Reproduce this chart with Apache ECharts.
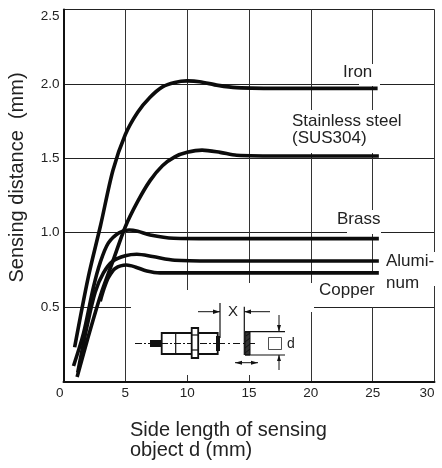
<!DOCTYPE html>
<html><head><meta charset="utf-8">
<style>html,body{margin:0;padding:0;background:#fff}#c{width:442px;height:468px}</style>
<script src="https://cdn.jsdelivr.net/npm/echarts@6/dist/echarts.min.js"></script>
</head><body><div id="c"></div>
<script>
const iron=[[0.9,0.23],[2.0,0.70],[3,1.05],[4,1.42],[5,1.66],[6,1.81],[7,1.91],[8,1.98],[9,2.01],[10,2.02],[11,2.015],[12.5,1.99],[14,1.975],[18,1.97],[25.4,1.97]];
const stainless=[[1.1,0.03],[2,0.30],[3,0.58],[4,0.81],[5,1.04],[6,1.21],[7,1.35],[8,1.45],[9,1.51],[10,1.54],[11.2,1.555],[12.67,1.54],[14,1.52],[18,1.515],[25.5,1.515]];
const brass=[[0.81,0.104],[1.62,0.325],[2.43,0.637],[2.97,0.80],[3.62,0.93],[4.5,1.0],[5.3,1.018],[6,1.01],[7,0.985],[8.9,0.963],[12,0.96],[25.5,0.96]];
const aluminum=[[1.15,0.06],[1.9,0.37],[2.56,0.60],[3.23,0.73],[4.0,0.81],[5.0,0.845],[5.93,0.855],[7.2,0.84],[9,0.815],[12,0.81],[25.5,0.81]];
const copper=[[2.97,0.54],[3.3,0.63],[3.64,0.70],[4.18,0.76],[5.1,0.783],[5.8,0.77],[6.74,0.743],[7.8,0.73],[12,0.73],[25.5,0.73]];
const seriesList=[iron,stainless,brass,aluminum,copper];
const xTicks=[0,5,10,15,20,25,30];
const yTicks=[0,0.5,1,1.5,2,2.5];

const INK='#222', FF='"Liberation Sans",Arial,sans-serif';
const rect=(x,y,w,h)=>({type:'rect',z:1,silent:true,shape:{x,y,width:w,height:h},style:{fill:'#fff'}});
const line=(x1,y1,x2,y2,lw=1,dash)=>({type:'line',z:5,silent:true,shape:{x1,y1,x2,y2},style:{stroke:'#111',lineWidth:lw,lineDash:dash||null}});
const box=(x,y,w,h,lw=1.6,fill='#fff')=>({type:'rect',z:5,silent:true,shape:{x,y,width:w,height:h},style:{fill,stroke:'#111',lineWidth:lw}});
const tri=(pts)=>({type:'polygon',z:5,silent:true,shape:{points:pts},style:{fill:'#111'}});
const label=(t,x,y,size=17)=>({type:'text',z:6,silent:true,x,y,style:{text:t,fill:INK,font:size+'px '+FF,textAlign:'left',textVerticalAlign:'middle'}});

const graphics=[
  rect(131,290,178,85), rect(131,300,183,12), rect(245,283,8,8),
  rect(305,283,71,24), rect(368,273,8,27), rect(376,252,60,34),
  rect(359,64,21,22), rect(290,110,116,43), rect(347,210,34,24),
  label('Iron',343,72), label('Stainless steel',292,121), label('(SUS304)',292,138),
  label('Brass',337,219), label('Alumi-',386,261), label('num',386,283), label('Copper',319,290),
  label('Side length of sensing',130,430,20), label('object d (mm)',130,450,20),
  // inset sketch
  line(135,343.5,218,343.5,1,[7,2,2,2]), line(218,343.5,258,343.5,1,[7,3,2,3]),
  {type:'rect',z:5,silent:true,shape:{x:150,y:340,width:12,height:7},style:{fill:'#111'}},
  {type:'rect',z:4,silent:true,shape:{x:161.7,y:333,width:56,height:21},style:{fill:'#fff',stroke:'#111',lineWidth:1.8}},
  line(175.7,333,175.7,354,1.2), line(135,343.5,218,343.5,1,[7,2,2,2]),
  box(191.7,328,6.5,30,1.8), line(192,335,198,335,1.2), line(192,350,198,350,1.2),
  {type:'rect',z:5,silent:true,shape:{x:216,y:336,width:4,height:15},style:{fill:'#111'}},
  line(220,303,220,338,1.2), line(198,311.7,220,311.7), tri([[220,311.7],[213,309.5],[213,314]]),
  {type:'text',z:6,silent:true,x:233,y:311.5,style:{text:'X',fill:INK,font:'15px '+FF,textAlign:'center',textVerticalAlign:'middle'}},
  line(244.3,306.7,244.3,355,1.2), line(244.3,311.7,270,311.7), tri([[244.3,311.7],[251,309.5],[251,314]]),
  box(245,332,5,23,1,'#333'),
  line(246,336,250,333,1), line(245,342,250,338,1), line(245,348,250,344,1), line(245,353,250,349,1),
  line(245,331.7,285,331.7,1.2), line(245,355,285,355,1.2),
  line(279,315,279,331,1), tri([[279,331.5],[277,325],[281,325]]),
  line(279,355,279,370,1), tri([[279,355],[277,361],[281,361]]),
  {type:'rect',z:5,silent:true,shape:{x:268.5,y:337.5,width:13,height:12},style:{fill:'#fff',stroke:'#222',lineWidth:0.8}},
  {type:'text',z:6,silent:true,x:287,y:344,style:{text:'d',fill:INK,font:'14px '+FF,textAlign:'left',textVerticalAlign:'middle'}},
  line(235,362.7,258,362.7,1), tri([[235,362.7],[242,360.7],[242,364.7]]), tri([[258,362.7],[251,360.7],[251,364.7]])
];

const chart=echarts.init(document.getElementById('c'),null,{renderer:'canvas'});
chart.setOption({
  animation:false,backgroundColor:'#fff',
  grid:{left:63.5,top:9.5,width:371,height:372,containLabel:false,outerBoundsMode:'none'},
  xAxis:{type:'value',min:0,max:30,interval:5,
    axisLine:{show:true,lineStyle:{color:'#111',width:2}},axisTick:{show:false},
    splitLine:{show:true,lineStyle:{color:'#333',width:1}},
    axisLabel:{color:INK,fontFamily:FF,fontSize:13.5,margin:5,showMinLabel:true,showMaxLabel:true,alignMinLabel:'right',alignMaxLabel:'right',
      formatter:v=>xTicks.includes(v)?String(v):''}},
  yAxis:{type:'value',min:0,max:2.5,interval:0.5,
    name:'Sensing distance  (mm)',nameLocation:'middle',nameGap:36,nameRotate:90,
    nameTextStyle:{color:INK,fontFamily:FF,fontSize:20,padding:[0,0,0,36]},
    axisLine:{show:true,lineStyle:{color:'#111',width:2}},axisTick:{show:false},
    splitLine:{show:true,lineStyle:{color:'#222',width:1}},
    axisLabel:{color:INK,fontFamily:FF,fontSize:13.5,margin:4,showMinLabel:false,showMaxLabel:true,verticalAlignMaxLabel:'top',
      formatter:v=>yTicks.includes(v)&&v!==0?v.toFixed(1):''}},
  series:seriesList.map(d=>({type:'line',data:d,smooth:0.3,symbol:'none',z:3,clip:false,
    lineStyle:{color:'#0c0c0c',width:3.6,cap:'butt'}})),
  graphic:{elements:graphics}
});
</script></body></html>
